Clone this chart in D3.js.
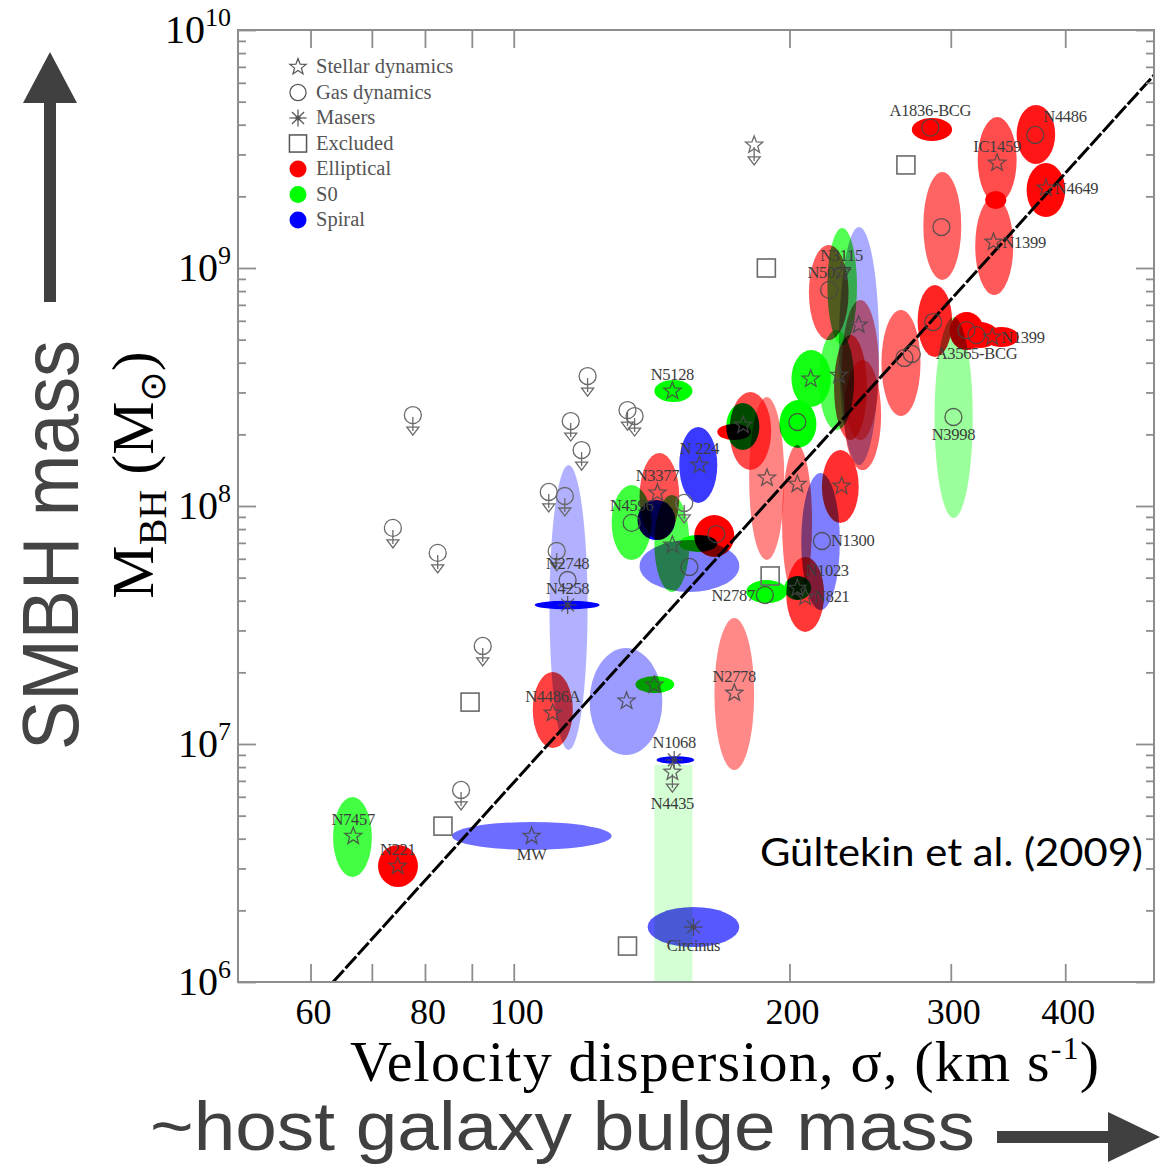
<!DOCTYPE html>
<html><head><meta charset="utf-8">
<script src="https://cdn.jsdelivr.net/npm/d3@7"></script>
<style>body{margin:0;background:#fff} svg{display:block}</style>
</head><body>
<svg id="c" width="1160" height="1168"></svg>
<script>
// ---------- DATA ----------
const sigmaDomain = [50, 500];
const massDomain = [1e6, 1e10];
const sigmaTicks = [60, 70, 80, 90, 100, 200, 300, 400];
const sigmaTickLabels = [60, 80, 100, 200, 300, 400];
const massDecades = [6, 7, 8, 9, 10];

// [label, morphology, method, sigma, logM, sigmaLo, sigmaHi, logMLo, logMHi]
const galaxies = [
  ["A1836-BCG","E","gas",285,9.59,272,301,9.534,9.630],
  ["N4486","E","gas",371,9.559,354,390,9.437,9.685],
  ["IC1459","E","star",337,9.441,321,354,9.273,9.634],
  ["","E","none",335,9.286,327,345,9.248,9.324],
  ["N4649","E","star",381,9.336,363,400,9.214,9.441],
  ["N1399","E","star",334,9.109,319,351,8.887,9.298],
  ["","E","gas",293,9.172,280,308,8.950,9.403],
  ["","E","gas",287,8.773,276,301,8.626,8.929],
  ["","E","gas",312,8.739,299,326,8.655,8.815],
  ["A3565-BCG","E","gas",320,8.718,308,338,8.664,8.773],
  ["N1399","E","star",333,8.710,326,356,8.668,8.752],
  ["N3998","S0","gas",302,8.374,288,317,7.950,8.794],
  ["","E","gas",267,8.622,252,278,8.378,8.824],
  ["","E","gas",272,8.639,null,null,null,null],
  ["N5077","E","gas",221,8.908,210,232,8.697,9.097],
  ["N3115","S0","star",228,8.983,220,237,8.676,9.168],
  ["","Sp","none",238,8.672,226.5,250.5,8.172,9.172],
  ["","E","star",238,8.761,228,250.5,8.277,8.866],
  ["","E","star",226.5,8.550,223.7,243,8.277,8.718],
  ["","S0","star",211,8.534,201,222,8.416,8.655],
  ["","S0","none",225,8.55,215.4,235.3,8.319,8.739],
  ["","S0","gas",204,8.353,195,214,8.244,8.445],
  ["","E","none",181,8.311,172,191,8.151,8.479],
  ["","S0","star",178,8.340,170.6,185.4,8.235,8.433],
  ["","E","none",174,8.311,166.8,181.6,8.277,8.345],
  ["","E","star",189,8.118,180.7,197.4,7.773,8.458],
  ["","E","star",204,8.092,196.3,211.7,7.605,8.256],
  ["","E","star",228,8.084,217,238,7.929,8.235],
  ["","E","none",240,8.38,229.4,251.8,8.151,8.613],
  ["N1300","Sp","gas",217,7.853,206,227,7.563,8.139],
  ["N821","E","star",208,7.618,198.4,218.2,7.471,7.786],
  ["N1023","S0","star",204,7.655,197.4,211.2,7.605,7.706],
  ["N2787","S0","gas",188,7.626,179.4,198.9,7.592,7.689],
  ["N5128","S0","star",149,8.483,142.4,156.7,8.437,8.529],
  ["N 224","Sp","star",159.5,8.172,151.6,166.8,8.013,8.332],
  ["N3377","E","star",143.5,8.055,137.2,151.6,7.857,8.223],
  ["N4596","S0","gas",134.5,7.929,127.9,141.4,7.773,8.088],
  ["","Sp","none",143,7.94,136.5,150.1,7.857,8.025],
  ["","S0","star",149,7.836,142.4,155.5,7.639,8.046],
  ["","Sp","gas",155.5,7.744,137.2,176.3,7.639,7.857],
  ["","E","gas",166.4,7.882,157.4,174.1,7.786,7.962],
  ["","S0","none",159,7.84,151.6,166.8,7.807,7.878],
  ["N2748","Sp","gas",114.5,7.689,109.4,120.4,6.975,8.172],
  ["N4258","Sp","maser",114.5,7.584,105.4,124.1,7.566,7.602],
  ["N4486A","E","star",110.3,7.130,104.9,116.0,6.983,7.303],
  ["","Sp","star",132.8,7.181,121.0,145.3,6.954,7.403],
  ["","S0","star",142.4,7.248,135.8,149.7,7.214,7.286],
  ["N2778","E","star",174.1,7.214,165.6,183.0,6.891,7.529],
  ["N1068","Sp","maser",149.7,6.933,143.2,157.4,6.917,6.949],
  ["Circinus","Sp","maser",157.1,6.231,140.0,176.3,6.147,6.315],
  ["MW","Sp","star",104.6,6.613,85.6,127.9,6.555,6.672],
  ["N7457","S0","star",66.8,6.613,63.5,70.0,6.441,6.777],
  ["N221","E","star",74.7,6.487,71.1,78.6,6.399,6.576]
];

// upper-limit band: [label, morphology, method, sigma, logM, sigmaLo, sigmaHi, logMHi]
const limitBands = [["N4435","S0","star",149,6.882,142.4,156.7,6.912]];

// upper limits without ellipse: [method, sigma, logM]
const upperLimits = [
  ["star",183,9.517],
  ["gas",77.6,8.382],["gas",73.8,7.908],["gas",82.6,7.803],["gas",92.5,7.412],
  ["gas",87.6,6.807],["gas",120.4,8.546],["gas",115.4,8.357],["gas",118.6,8.235],
  ["gas",133.1,8.403],["gas",135.5,8.378],["gas",109.2,8.059],["gas",113.7,8.042],
  ["gas",111.4,7.811],["gas",153.5,8.013]
];

// excluded objects: [sigma, logM]
const excluded = [[268,9.433],[188.7,9.0],[89.6,7.176],[83.7,6.655],[133.1,6.151],[190.5,7.706]];

// M-sigma relation end points: [sigma, logM]
const fitLine = [[63.5,6.0],[500,9.81]];

const labelSide = {"A1836-BCG":"t","N4486":"tr","IC1459":"t","N4649":"r","N1399":"r",
  "A3565-BCG":"b","N3998":"b","N5077":"t","N3115":"t","N1300":"r","N821":"r","N1023":"tr",
  "N2787":"l","N5128":"t","N 224":"t","N3377":"t","N4596":"t","N2748":"t","N4258":"t",
  "N4486A":"t","N2778":"t","N1068":"t","N4435":"b","Circinus":"b","MW":"b","N7457":"t","N221":"t"};

const legendEntries = [["star","Stellar dynamics"],["gas","Gas dynamics"],["maser","Masers"],
  ["excl","Excluded"],["E","Elliptical"],["S0","S0"],["Sp","Spiral"]];

// ---------- DRAW ----------
const svg = d3.select("#c");
svg.append("rect").attr("width",1160).attr("height",1168).attr("fill","#fff");
const L=238, R=1154, T=30, B=982;
const x = d3.scaleLog().domain(sigmaDomain).range([L,R]);
const y = d3.scaleLog().domain(massDomain).range([B,T]);
const M = v => Math.pow(10, v);
const colors = {E:"#ff0000", S0:"#00ff00", Sp:"#0000ff"};
const mk = "#474747";

const defs = svg.append("defs");
defs.append("clipPath").attr("id","clip").append("rect")
  .attr("x",L).attr("y",T).attr("width",R-L).attr("height",B-T);

const eg = svg.append("g").attr("clip-path","url(#clip)").style("isolation","isolate");
eg.append("rect").attr("x",L).attr("y",T).attr("width",R-L).attr("height",B-T).attr("fill","#fff");

galaxies.filter(g => g[5] != null).forEach(g => {
  const x0=x(g[5]), x1=x(g[6]), y0=y(M(g[7])), y1=y(M(g[8]));
  const area = (x1-x0)*(y0-y1);
  const a = Math.min(1, Math.pow(2000/area, 0.7));
  eg.append("ellipse").attr("cx",(x0+x1)/2).attr("cy",(y0+y1)/2)
    .attr("rx",(x1-x0)/2).attr("ry",(y0-y1)/2)
    .attr("fill",colors[g[1]]).attr("fill-opacity",a)
    .style("mix-blend-mode","multiply");
});
limitBands.forEach(b => {
  const x0=x(b[5]), x1=x(b[6]), y1=y(M(b[7]));
  eg.append("rect").attr("x",x0).attr("y",y1).attr("width",x1-x0).attr("height",B-y1)
    .attr("fill",colors[b[1]]).attr("fill-opacity",0.17).style("mix-blend-mode","multiply");
});

// fit line
svg.append("path").attr("clip-path","url(#clip)")
  .datum(fitLine)
  .attr("d", d3.line().x(d=>x(d[0])).y(d=>y(M(d[1]))))
  .attr("fill","none").attr("stroke","#000").attr("stroke-width",3)
  .attr("stroke-dasharray","16,2.5");

// markers
function starPath(r){
  let p="";
  for(let i=0;i<10;i++){
    const rr = i%2===0 ? r : r*0.42;
    const ang = -Math.PI/2 + i*Math.PI/5;
    p += (i?"L":"M") + (rr*Math.cos(ang)).toFixed(2)+","+(rr*Math.sin(ang)).toFixed(2);
  }
  return p+"Z";
}
function drawMarker(g, type, cx, cy, col){
  const s = g.append("g").attr("transform",`translate(${cx},${cy})`)
    .attr("fill","none").attr("stroke",col).attr("stroke-width",1.3);
  if(type==="star") s.append("path").attr("d",starPath(9));
  else if(type==="gas") s.append("circle").attr("r",8.5);
  else if(type==="maser"){
    [0,45,90,135].forEach(a=>{
      const c=Math.cos(a*Math.PI/180)*9, sn=Math.sin(a*Math.PI/180)*9;
      s.append("line").attr("x1",-c).attr("y1",-sn).attr("x2",c).attr("y2",sn);
    });
    s.append("circle").attr("r",2).attr("fill",col);
  } else if(type==="excl"){
    s.append("rect").attr("x",-9).attr("y",-9).attr("width",18).attr("height",18).attr("stroke-width",1.6);
  }
  return s;
}
function drawArrow(g, cx, cy, col){
  const s = g.append("g").attr("transform",`translate(${cx},${cy})`)
    .attr("fill","none").attr("stroke",col).attr("stroke-width",1.3);
  s.append("line").attr("x1",0).attr("y1",2).attr("x2",0).attr("y2",16);
  s.append("path").attr("d","M-6,12L6,12L0,20Z");
}

const mg = svg.append("g");
galaxies.forEach(g => { if(g[2]!=="none") drawMarker(mg, g[2], x(g[3]), y(M(g[4])), mk).attr("opacity",0.85); });
limitBands.forEach(b => { drawMarker(mg, b[2], x(b[3]), y(M(b[4])), "#666"); drawArrow(mg, x(b[3]), y(M(b[4])), "#666"); });
upperLimits.forEach(u => { drawMarker(mg, u[0], x(u[1]), y(M(u[2])), "#6a6a6a"); drawArrow(mg, x(u[1]), y(M(u[2])), "#6a6a6a"); });
excluded.forEach(e => drawMarker(mg, "excl", x(e[0]), y(M(e[1])), "#6a6a6a"));

// labels
const lg = svg.append("g").attr("font-family","'Liberation Serif', serif").attr("font-size",16.5)
  .attr("fill","#3c3c3c").attr("letter-spacing",-0.3);
function placeLabel(name, cx, cy, lim){
  const side = labelSide[name] || "t";
  let tx=cx, ty=cy, anchor="middle";
  if(side==="t"){ ty=cy-17; }
  else if(side==="b"){ ty=cy+(lim?31:18); }
  else if(side==="r"){ tx=cx+9; anchor="start"; }
  else if(side==="l"){ tx=cx-10; anchor="end"; }
  else if(side==="tr"){ tx=cx+8; ty=cy-18; anchor="start"; }
  lg.append("text").attr("x",tx).attr("y",ty+5.5).attr("text-anchor",anchor).text(name);
}
galaxies.forEach(g => { if(g[0]) placeLabel(g[0], x(g[3]), y(M(g[4])), false); });
limitBands.forEach(b => placeLabel(b[0], x(b[3]), y(M(b[4])), true));

// axes ticks
const frameCol = "#8d8d8d";
function styleAxis(sel){ sel.select(".domain").remove(); sel.selectAll("text").remove();
  sel.selectAll("line").attr("stroke",frameCol).attr("stroke-width",1.8); }
svg.append("g").attr("transform",`translate(0,${B})`)
  .call(d3.axisBottom(x).tickValues(sigmaTicks).tickSize(-18)).call(styleAxis);
svg.append("g").attr("transform",`translate(0,${T})`)
  .call(d3.axisTop(x).tickValues(sigmaTicks).tickSize(-18)).call(styleAxis);
const majorM = massDecades.map(M);
const minorM = [];
massDecades.slice(0,-1).forEach(k => { for(let i=2;i<=9;i++) minorM.push(i*M(k)); });
svg.append("g").attr("transform",`translate(${L},0)`)
  .call(d3.axisLeft(y).tickValues(majorM).tickSize(-18)).call(styleAxis);
svg.append("g").attr("transform",`translate(${L},0)`)
  .call(d3.axisLeft(y).tickValues(minorM).tickSize(-8)).call(styleAxis);
svg.append("g").attr("transform",`translate(${R},0)`)
  .call(d3.axisRight(y).tickValues(majorM).tickSize(-18)).call(styleAxis);
svg.append("g").attr("transform",`translate(${R},0)`)
  .call(d3.axisRight(y).tickValues(minorM).tickSize(-8)).call(styleAxis);
svg.append("rect").attr("x",L).attr("y",T).attr("width",R-L).attr("height",B-T)
  .attr("fill","none").attr("stroke",frameCol).attr("stroke-width",2);

// legend
const leg = svg.append("g");
legendEntries.forEach((e,i) => {
  const ly = 67 + i*25.5;
  if(colors[e[0]]) leg.append("circle").attr("cx",298).attr("cy",ly).attr("r",8.5).attr("fill",colors[e[0]]);
  else drawMarker(leg, e[0], 298, ly, "#555").attr("transform",`translate(298,${ly}) scale(0.95)`);
  leg.append("text").attr("x",316).attr("y",ly+6).attr("font-family","'Liberation Serif', serif")
    .attr("font-size",20.5).attr("fill","#555").text(e[1]);
});

// tick labels
const serif = "'Liberation Serif', serif";
massDecades.forEach(k => {
  const t = svg.append("text").attr("x",231).attr("y",y(M(k))+13).attr("text-anchor","end")
    .attr("font-family",serif).attr("font-size",40).attr("fill","#000");
  t.append("tspan").text("10");
  t.append("tspan").attr("dy",-17).attr("font-size",26).text(k);
});
sigmaTickLabels.forEach(v => {
  svg.append("text").attr("x",x(v)+3).attr("y",1024).attr("text-anchor","middle")
    .attr("font-family",serif).attr("font-size",36).attr("fill","#000").text(v);
});

// axis titles
const xt = svg.append("text").attr("x",350).attr("y",1081).attr("font-family",serif)
  .attr("font-size",58).attr("letter-spacing",1.2).attr("fill","#000");
xt.append("tspan").text("Velocity dispersion, σ, (km s");
xt.append("tspan").attr("dy",-22).attr("font-size",32).text("-1");
xt.append("tspan").attr("dy",22).text(")");

const yt = svg.append("text").attr("transform","translate(153,475) rotate(-90)")
  .attr("text-anchor","middle").attr("font-family",serif).attr("font-size",60).attr("fill","#000");
yt.append("tspan").text("M");
yt.append("tspan").attr("dy",13).attr("font-size",40).text("BH");
yt.append("tspan").attr("dy",-13).text(" (M");
yt.append("tspan").attr("dy",12).attr("font-size",36).attr("font-family","'DejaVu Sans', sans-serif").text("⊙");
yt.append("tspan").attr("dy",-12).text(")");

// slide annotations
svg.append("text").attr("transform","translate(78,545) rotate(-90)").attr("text-anchor","middle")
  .attr("font-family","'Liberation Sans', sans-serif").attr("font-size",80).attr("fill","#444")
  .attr("textLength",410).attr("lengthAdjust","spacingAndGlyphs").text("SMBH mass");
svg.append("path").attr("d","M44,302L56,302L56,103L77,103L50,52L23,103L44,103Z").attr("fill","#404040");

svg.append("text").attr("x",150).attr("y",1150)
  .attr("font-family","'Liberation Sans', sans-serif").attr("font-size",68).attr("fill","#404040")
  .attr("textLength",825).attr("lengthAdjust","spacingAndGlyphs").text("~host galaxy bulge mass");
svg.append("path").attr("d","M997,1131L1108,1131L1108,1112L1160,1137L1108,1162L1108,1143L997,1143Z").attr("fill","#404040");

svg.append("text").attr("x",760).attr("y",866).attr("font-family","Lato, 'Open Sans', sans-serif")
  .attr("font-size",38).attr("fill","#000").attr("textLength",383).attr("lengthAdjust","spacingAndGlyphs")
  .text("Gültekin et al. (2009)");
</script>
</body></html>
